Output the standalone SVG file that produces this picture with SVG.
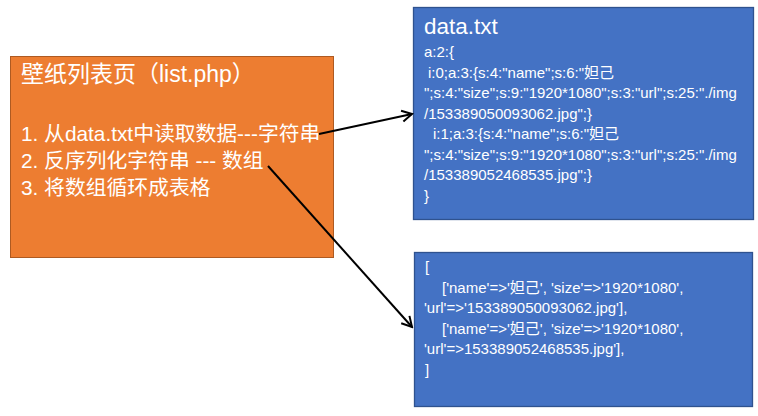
<svg xmlns="http://www.w3.org/2000/svg" width="758" height="416" viewBox="0 0 758 416">
<style>
.bg{fill:#ffffff}
.orange{fill:#ED7D31;stroke:#AE5A21;stroke-width:1}
.blue{fill:#4472C4;stroke:#2F528F;stroke-width:1.3}
.t{font-family:"Liberation Sans","Noto Sans CJK SC",sans-serif;fill:#ffffff}
.title{font-size:23px}
.body{font-size:20.8px}
.h{font-size:22.5px}
.code{font-size:15px}
.conn{stroke:#000000;stroke-width:2;fill:none}
</style>
<defs>
<marker id="arr" markerUnits="userSpaceOnUse" markerWidth="14" markerHeight="14" viewBox="0 0 14 14" refX="12" refY="7" orient="auto">
<path d="M2,1.5 L12,7 L2,12.5" fill="none" stroke="#000000" stroke-width="2"/>
</marker>
</defs>
<rect class="bg" x="0" y="0" width="758" height="416"/>
<g id="list-php">
<rect class="orange" x="10.5" y="56.5" width="323" height="201"/>
<text class="t title" x="21" y="82">壁纸列表页（list.php）</text>
<text class="t body" x="21" y="141">1. 从data.txt中读取数据---字符串</text>
<text class="t body" x="21" y="168">2. 反序列化字符串 --- 数组</text>
<text class="t body" x="21" y="195">3. 将数组循环成表格</text>
</g>
<g id="data-txt">
<rect class="blue" x="413.5" y="7.5" width="340" height="212"/>
<text class="t h" x="424" y="34">data.txt</text>
<text class="t code" x="424" y="57">a:2:{</text>
<text class="t code" x="428" y="77.5">i:0;a:3:{s:4:"name";s:6:"妲己</text>
<text class="t code" x="424" y="98">";s:4:"size";s:9:"1920*1080";s:3:"url";s:25:"./img</text>
<text class="t code" x="424" y="118.5">/153389050093062.jpg";}</text>
<text class="t code" x="433" y="139">i:1;a:3:{s:4:"name";s:6:"妲己</text>
<text class="t code" x="424" y="159.5">";s:4:"size";s:9:"1920*1080";s:3:"url";s:25:"./img</text>
<text class="t code" x="424" y="180">/153389052468535.jpg";}</text>
<text class="t code" x="424" y="200.5">}</text>
</g>
<g id="array">
<rect class="blue" x="414.5" y="252.5" width="338" height="154"/>
<text class="t code" x="425" y="272">[</text>
<text class="t code" x="442" y="292.5">['name'=&gt;'妲己', 'size'=&gt;'1920*1080',</text>
<text class="t code" x="424" y="313">'url'=&gt;'153389050093062.jpg'],</text>
<text class="t code" x="442" y="333.5">['name'=&gt;'妲己', 'size'=&gt;'1920*1080',</text>
<text class="t code" x="424" y="354">'url'=&gt;153389052468535.jpg'],</text>
<text class="t code" x="425" y="374.5">]</text>
</g>
<g id="connectors">
<line class="conn" x1="319" y1="134" x2="412" y2="114" marker-end="url(#arr)"/>
<line class="conn" x1="268" y1="166" x2="412" y2="327" marker-end="url(#arr)"/>
</g>
</svg>
